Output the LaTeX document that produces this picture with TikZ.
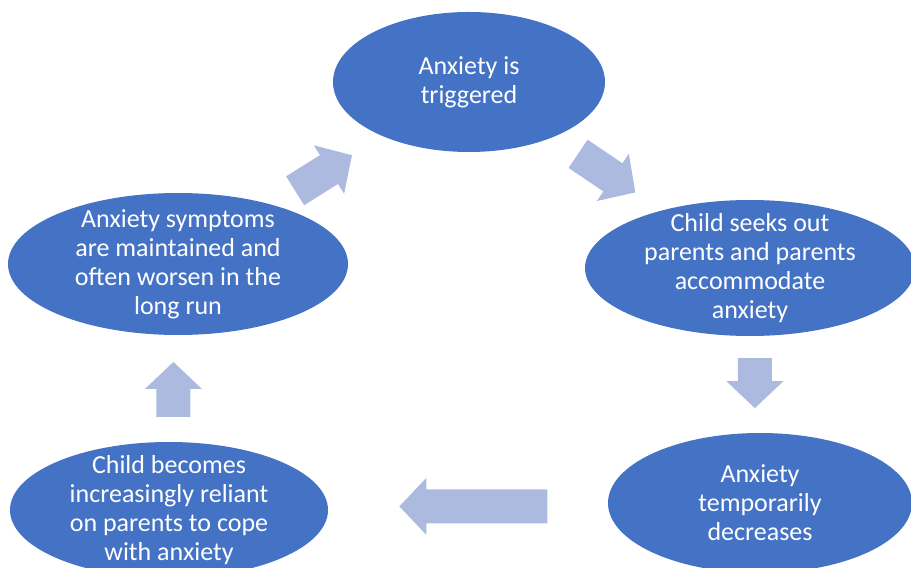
\documentclass[tikz,border=0pt]{standalone}
\usepackage{fontspec}
\setmainfont{Carlito}
\usetikzlibrary{calc,shapes.geometric}
\definecolor{cycleblue}{RGB}{68,114,196}
\definecolor{arrowblue}{RGB}{171,186,222}
\newcommand{\flowarrow}[5]{%
  \begin{scope}[shift={($(#1)!#3!(#2)$)}, rotate=#4]
    \fill[arrowblue] ({-#5/2},17) -- ({#5/2-27},17) -- ({#5/2-27},28.5) -- ({#5/2},0)
      -- ({#5/2-27},-28.5) -- ({#5/2-27},-17) -- ({-#5/2},-17) -- cycle;
  \end{scope}}

\begin{document}
\begin{tikzpicture}[x=1pt,y=1pt]

\tikzstyle{bubble}=[ellipse,fill=cycleblue,inner sep=0pt]
\tikzstyle{txt}=[text=white,align=center,font=\fontsize{26}{29}\selectfont]

\useasboundingbox (0,0) rectangle (911,568);

\node[bubble,minimum width=272pt,minimum height=140pt,label={[txt]center:Anxiety is\\triggered}] (trig) at (469,486) {};
\node[bubble,minimum width=330pt,minimum height=136pt,label={[txt]center:Child seeks out\\parents and parents\\accommodate\\anxiety}] (seek) at (750,300) {};
\node[bubble,minimum width=304pt,minimum height=140pt,label={[txt]center:Anxiety\\temporarily\\decreases}] (decr) at (760,65) {};
\node[bubble,minimum width=318pt,minimum height=136pt,label={[txt]center:Child becomes\\increasingly reliant\\on parents to cope\\with anxiety}] (rely) at (169,58) {};
\node[bubble,minimum width=340pt,minimum height=142pt,label={[txt]center:Anxiety symptoms\\are maintained and\\often worsen in the\\long run}] (worse) at (178,304) {};

\flowarrow{worse}{trig}{0.5}{32}{67}
\flowarrow{trig}{seek}{0.49}{-34}{69}
\flowarrow{seek}{decr}{0.49}{-90}{50}
\flowarrow{decr}{rely}{0.485}{180}{148}
\flowarrow{rely}{worse}{0.49}{90}{55}

\end{tikzpicture}
\end{document}
